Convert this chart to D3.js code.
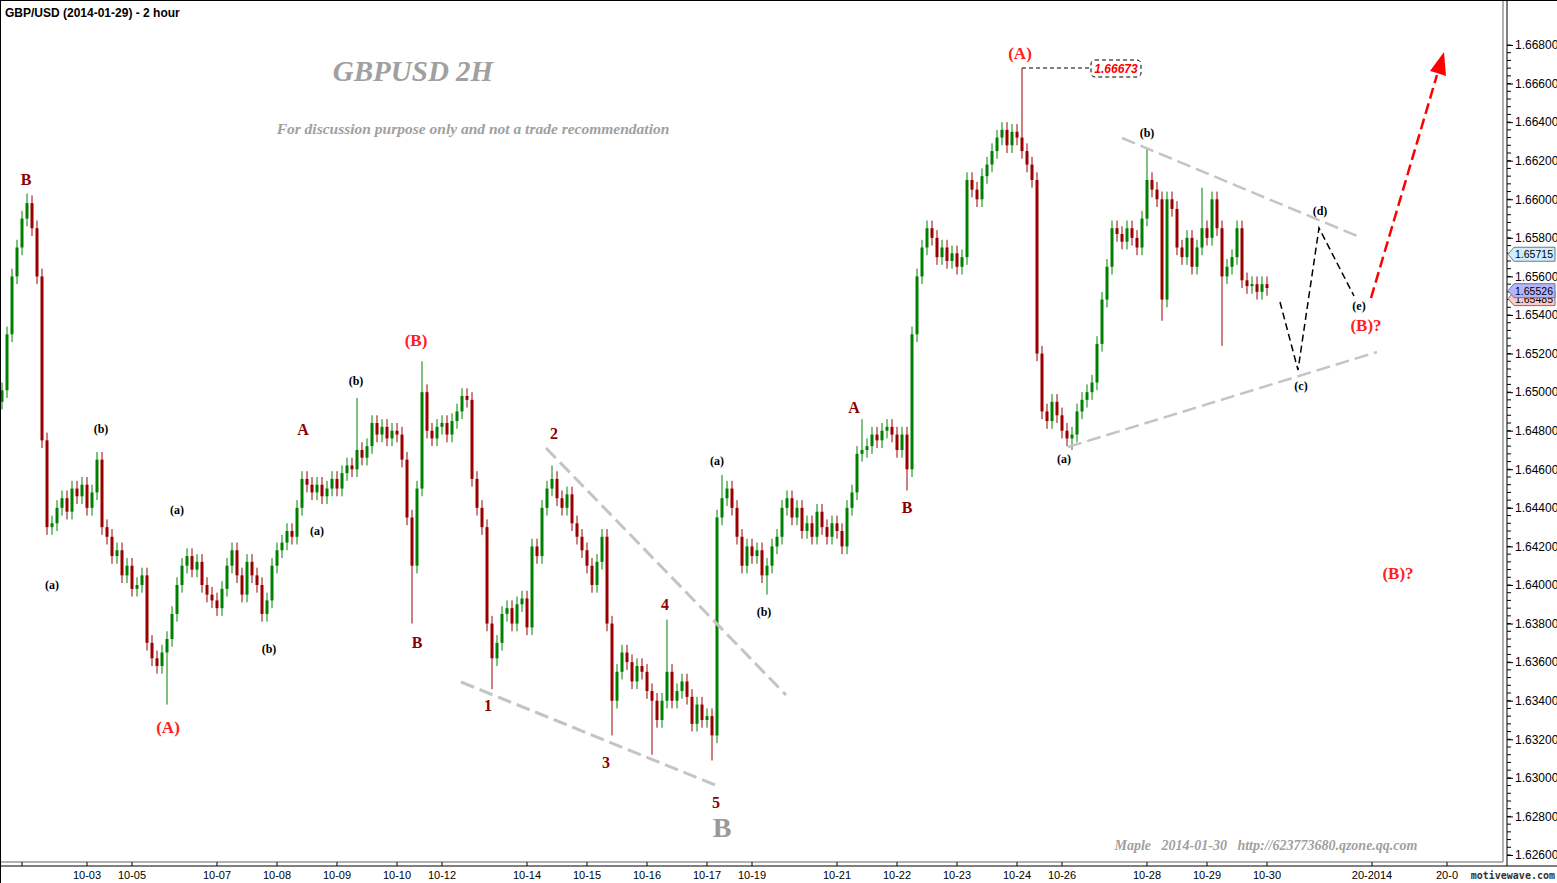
<!DOCTYPE html>
<html><head><meta charset="utf-8">
<script src="https://cdn.jsdelivr.net/npm/d3@7"></script>
<style>body{margin:0;background:#fff}svg{display:block}</style></head>
<body><svg id="c" width="1557" height="883"></svg>
<script>
// closes in pips above 1.6000
const closes=[501,530,560,575,590,598,585,560,475,430,432,440,445,438,450,446,452,440,448,465,
430,425,415,418,405,410,398,400,405,370,362,358,365,372,385,400,410,415,408,412,
400,395,392,388,398,410,418,405,395,412,405,400,385,392,410,418,422,428,425,440,
455,452,448,452,446,450,455,450,458,462,460,470,466,472,484,478,482,476,480,478,
465,435,410,450,500,480,476,482,484,478,485,490,498,496,455,440,430,380,362,370,
385,388,380,390,393,378,420,415,440,450,455,445,440,447,432,425,418,410,400,412,
425,380,340,355,365,360,350,358,355,345,340,330,340,355,340,345,350,342,328,338,
330,332,322,435,445,450,440,425,410,420,415,418,405,410,420,425,440,445,435,440,
428,432,425,438,430,425,432,428,420,440,448,468,470,472,478,475,480,482,478,470,
478,460,530,560,575,585,580,570,575,568,572,565,570,610,605,600,612,618,625,632,
636,628,635,632,625,618,610,520,490,485,495,488,480,476,478,490,496,500,505,525,
548,565,585,582,578,585,580,575,590,610,605,600,548,600,595,575,570,580,565,575,
585,580,600,585,560,565,570,585,558,555,556,552,556,554];
const firstOpen=495;
const highOverrides={5:603,71:497,84:516,110:462,133:382,144:457,172:486,204:668,229:626,240:606};
const lowOverrides={33:338,82:380,98:346,122:322,130:312,142:309,153:395,181:449,214:470,232:537,244:524};
const tickIdx=[4,17,26,43,55,67,79,88,105,117,129,141,150,167,179,191,203,212,229,241,253,274,289];
const tickLbl=["","10-03","10-05","10-07","10-08","10-09","10-10","10-12","10-14","10-15","10-16","10-17","10-19","10-21","10-22","10-23","10-24","10-26","10-28","10-29","10-30","20-2014","20-0"];
const priceTicks=[1.626,1.628,1.630,1.632,1.634,1.636,1.638,1.640,1.642,1.644,1.646,1.648,1.650,1.652,1.654,1.656,1.658,1.660,1.662,1.664,1.666,1.668];
const tags=[[1.65485,"#ffc8c8"],[1.65715,"#cdeefa"],[1.65526,"#b4b4ff"]];

const svg=d3.select("#c");
const x=d3.scaleLinear().domain([0,253]).range([2,1267]);
const y=d3.scaleLinear().domain([1.626,1.668]).range([855,45]);
const P=v=>1.6+v/10000;
const bars=closes.map((c,i)=>{const o=i?closes[i-1]:firstOpen;
 const h=highOverrides[i]!==undefined?highOverrides[i]:Math.max(o,c)+4;
 const l=lowOverrides[i]!==undefined?lowOverrides[i]:Math.min(o,c)-4;
 return {i,o:P(o),c:P(c),h:P(h),l:P(l)};});
const g=svg.append("g");
bars.forEach(b=>{const col=b.c>=b.o?"#008000":"#990000";
 g.append("line").attr("x1",x(b.i)).attr("x2",x(b.i)).attr("y1",y(b.h)).attr("y2",y(b.l)).attr("stroke",col).attr("stroke-width",1);
 const t=y(Math.max(b.o,b.c)),bt=y(Math.min(b.o,b.c));
 g.append("rect").attr("x",x(b.i)-1.5).attr("y",t).attr("width",3).attr("height",Math.max(1,bt-t)).attr("fill",col);
});
// frame
svg.append("line").attr("x1",1503).attr("x2",1503).attr("y1",0).attr("y2",862).attr("stroke","#999").attr("stroke-width",1.5);
svg.append("line").attr("x1",1507).attr("x2",1507).attr("y1",0).attr("y2",866).attr("stroke","#000");
svg.append("line").attr("x1",0).attr("x2",1503).attr("y1",862).attr("y2",862).attr("stroke","#999").attr("stroke-width",1.5);
svg.append("line").attr("x1",0).attr("x2",1557).attr("y1",866).attr("y2",866).attr("stroke","#000");
svg.append("line").attr("x1",0.5).attr("x2",0.5).attr("y1",0).attr("y2",883).attr("stroke","#000");
svg.append("line").attr("x1",0).attr("x2",1557).attr("y1",0.5).attr("y2",0.5).attr("stroke","#000");
// y axis
const ya=svg.append("g").attr("transform","translate(1507,0)").call(d3.axisRight(y).tickValues(priceTicks).tickFormat(d3.format(".5f")).tickSize(6));
ya.select(".domain").remove();
ya.selectAll("text").attr("font-family","Liberation Sans, Arial").attr("font-size",12).attr("fill","#000").attr("x",8);
const minor=d3.range(0,106).map(k=>1.626+k*0.0004);
svg.append("g").selectAll("line").data(minor).join("line").attr("x1",1507).attr("x2",1511).attr("y1",d=>y(d)).attr("y2",d=>y(d)).attr("stroke","#000");
// price tags
tags.forEach(([p,c])=>{const yy=y(p);
 svg.append("path").attr("d",`M1508,${yy} l6,-7 h41 v14 h-41 z`).attr("fill",c).attr("stroke","#777");
 svg.append("text").attr("x",1515).attr("y",yy+4).attr("font-family","Liberation Sans, Arial").attr("font-size",11).attr("textLength",38).attr("lengthAdjust","spacingAndGlyphs").text(d3.format(".5f")(p));});
// x axis
const xa=svg.append("g").attr("transform","translate(0,866)");
tickIdx.forEach((t,k)=>{const xx=x(t);
 xa.append("line").attr("x1",xx).attr("x2",xx).attr("y1",-4).attr("y2",0).attr("stroke","#000");
 xa.append("text").attr("x",xx).attr("y",13).attr("text-anchor","middle").attr("font-family","Liberation Sans Narrow, Liberation Sans, Arial").attr("font-size",11).text(tickLbl[k]);});
svg.append("text").attr("x",1555).attr("y",879).attr("text-anchor","end").attr("font-family","DejaVu Sans Mono").attr("font-weight","bold").attr("font-size",10).attr("fill","#333").text("motivewave.com");
// texts
const T=(xx,yy,s,o)=>svg.append("text").attr("x",xx).attr("y",yy).attr("text-anchor",o.a||"middle").attr("font-family",o.f||"Liberation Serif, Times New Roman, serif").attr("font-weight",o.w||"bold").attr("font-style",o.st||"normal").attr("font-size",o.s).attr("fill",o.c).text(s);
T(5,17,"GBP/USD (2014-01-29) - 2 hour",{a:"start",f:"Liberation Sans, Arial",s:12,c:"#000"});
T(413,81,"GBPUSD 2H",{s:29,st:"italic",c:"#a0a0a0"});
T(473,134,"For discussion purpose only and not a trade recommendation",{s:15.5,st:"italic",c:"#a0a0a0",w:"bold"});
T(1266,850,"Maple   2014-01-30   http://623773680.qzone.qq.com",{s:14,st:"italic",c:"#a0a0a0"}).style("white-space","pre");
T(722,837,"B",{s:28,c:"#999"});
[[26,185,"B"],[303,435,"A"],[417,648,"B"],[488,711,"1"],[554,439,"2"],[606,768,"3"],[665,610,"4"],[716,808,"5"],[854,413,"A"],[907,513,"B"]].forEach(d=>T(d[0],d[1],d[2],{s:16,c:"#8b0000"}));
[[168,733,"(A)"],[416,346,"(B)"],[1020,59,"(A)"],[1366,331,"(B)?"],[1398,579,"(B)?"]].forEach(d=>T(d[0],d[1],d[2],{s:17,c:"#ff2020"}));
[[52,589,"(a)"],[101,433,"(b)"],[177,514,"(a)"],[269,653,"(b)"],[317,535,"(a)"],[356,385,"(b)"],[717,465,"(a)"],[764,616,"(b)"],[1064,463,"(a)"],[1147,137,"(b)"],[1301,390,"(c)"],[1320,215,"(d)"],[1359,310,"(e)"]].forEach(d=>T(d[0],d[1],d[2],{s:12,c:"#000"}));
// lines
const L=(pts,col,w,da)=>svg.append("path").attr("d",d3.line()(pts)).attr("fill","none").attr("stroke",col).attr("stroke-width",w).attr("stroke-dasharray",da);
L([[461,682],[718,786]],"#c4c4c4",3,"14,6");
L([[546,448],[786,695]],"#c4c4c4",3,"14,6");
L([[1068,447],[1377,352]],"#c4c4c4",2.5,"14,6");
L([[1122,138],[1362,238]],"#c4c4c4",2.5,"14,6");
L([[1280,302],[1298,370],[1319,228],[1354,296]],"#000",1.5,"7,4");
L([[1371,298],[1437,75]],"#ff0000",2.5,"11,5");
svg.append("path").attr("d","M1444,52 L1446,76 L1437,73 L1430,71 Z").attr("fill","#ff0000");
L([[1022,68],[1090,68]],"#000",1.2,"4,3");
svg.append("rect").attr("x",1091).attr("y",60).attr("width",50).attr("height",17).attr("rx",4).attr("fill","#fff").attr("stroke","#000").attr("stroke-dasharray","4,3");
T(1116,73,"1.66673",{f:"Liberation Sans, Arial",s:12,st:"italic",c:"#ff0000"});
</script></body></html>
